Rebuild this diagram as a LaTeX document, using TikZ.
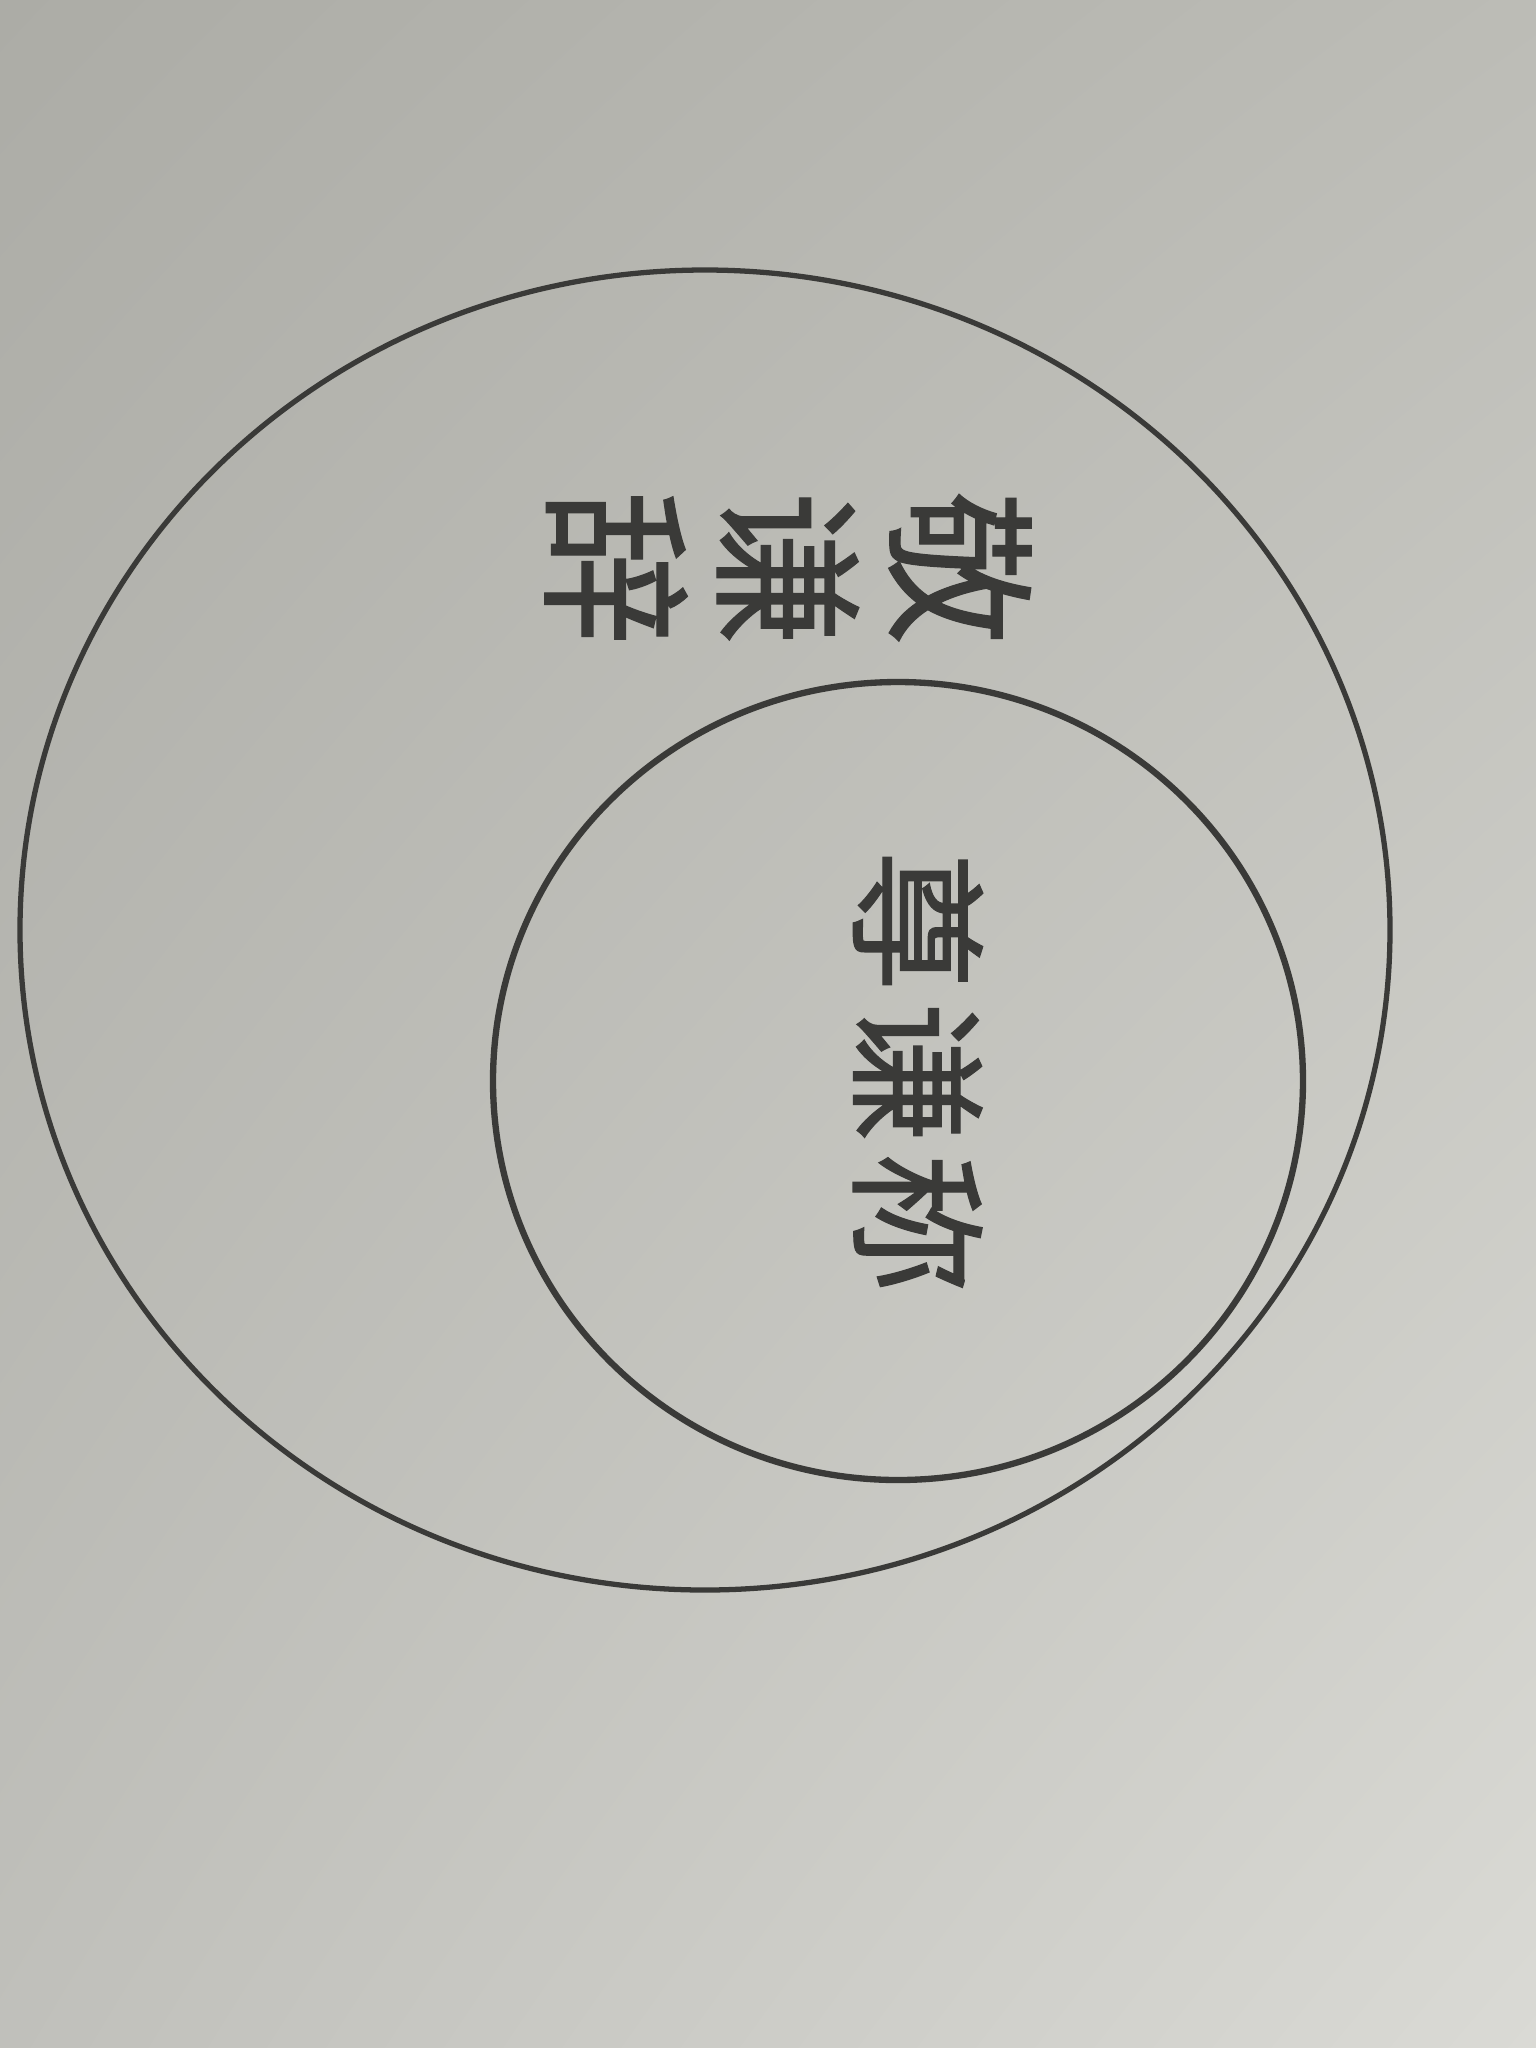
\documentclass[tikz,border=0pt]{standalone}
\usepackage{fontspec}
\usepackage{xcolor}
\newfontfamily\cjk[FakeBold=0.8]{Noto Sans CJK SC}
\usetikzlibrary{positioning,shadings}

\definecolor{paperUL}{RGB}{172,172,166}
\definecolor{paperUR}{RGB}{188,188,182}
\definecolor{paperLL}{RGB}{192,192,187}
\definecolor{paperLR}{RGB}{218,218,213}
\definecolor{inkgray}{RGB}{58,58,56}

\begin{document}
\begin{tikzpicture}[x=1cm, y=1cm]
      % Sizes (1 unit = 100 px of the photo)
      \def\W{15.36}   % total width
      \def\H{20.48}   % total height

      \tikzset{
        ring/.style={draw=inkgray, line width=1.5pt},
        biglabel/.style={font=\cjk\fontsize{44}{49}\selectfont, text=inkgray, rotate=-90, align=center, inner sep=0pt},
        smalllabel/.style={font=\cjk\fontsize{40}{44}\selectfont, text=inkgray, rotate=-90, inner sep=0pt}
      }

      % Paper background
      \useasboundingbox (0,0) rectangle (\W,-\H);
      \shade[upper left=paperUL, upper right=paperUR, lower left=paperLL, lower right=paperLR]
        (0,0) rectangle (\W,-\H);

      % Outer ring and inner ring
      \draw[ring] (7.05,-9.30) ellipse [x radius=6.85, y radius=6.60];
      \draw[ring, line width=1.8pt] (8.98,-10.81) ellipse [x radius=4.05, y radius=3.99];

      % Labels
      \node[biglabel] (jqc) at (7.88,-5.68) {敬\\谦\\辞};
      \node[smalllabel] (zqc) at (9.18,-10.72) {尊\hspace{3pt}谦\hspace{3pt}称};
    \end{tikzpicture}
\end{document}
